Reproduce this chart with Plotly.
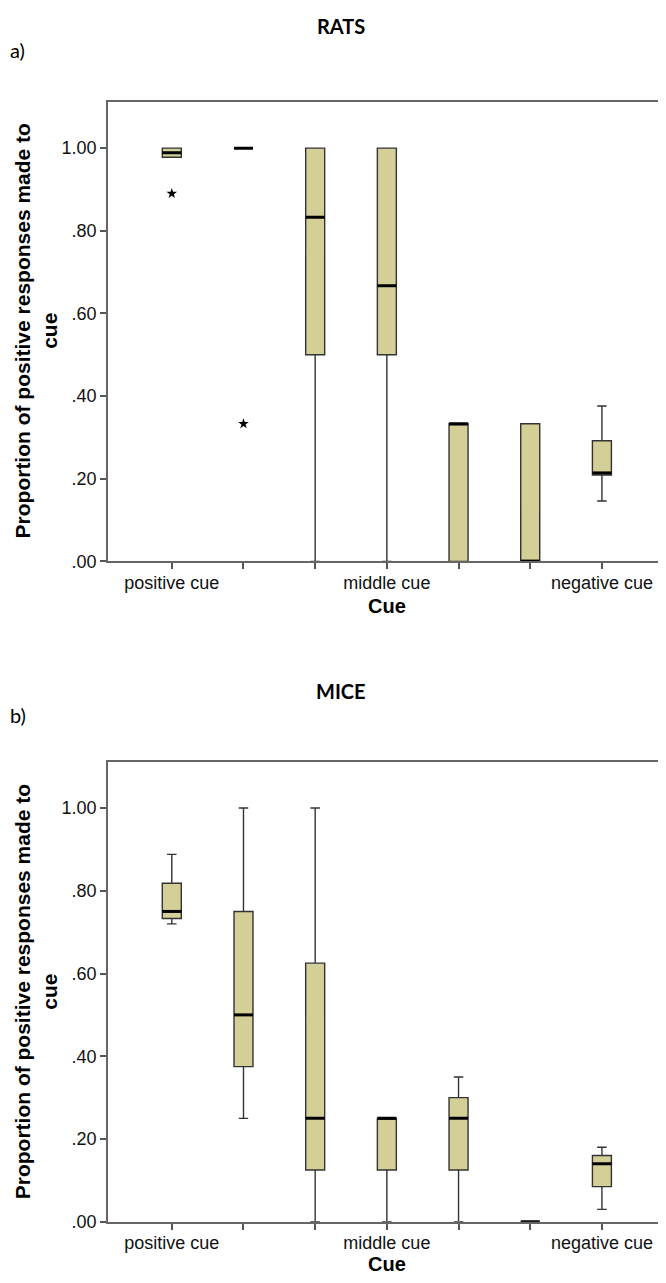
import plotly.graph_objects as go

# ---- data ----
cue_positions = [0, 1, 2, 3, 4, 5, 6]
tick_labels = ["positive cue", "", "", "middle cue", "", "", "negative cue"]
y_tickvals = [0, 0.2, 0.4, 0.6, 0.8, 1.0]
y_ticktext = [".00", ".20", ".40", ".60", ".80", "1.00"]

rats_min = [0.978, 1.000, 0.000, 0.000, 0.000, 0.000, 0.146]
rats_q1 = [0.978, 1.000, 0.500, 0.500, 0.000, 0.000, 0.209]
rats_median = [0.989, 1.000, 0.833, 0.667, 0.333, 0.000, 0.214]
rats_q3 = [1.000, 1.000, 1.000, 1.000, 0.333, 0.333, 0.292]
rats_max = [1.000, 1.000, 1.000, 1.000, 0.333, 0.333, 0.376]
rats_outlier_x = [0, 1]
rats_outlier_y = [0.890, 0.333]

mice_min = [0.720, 0.250, 0.000, 0.000, 0.000, 0.000, 0.030]
mice_q1 = [0.733, 0.375, 0.125, 0.125, 0.125, 0.000, 0.085]
mice_median = [0.750, 0.500, 0.250, 0.250, 0.250, 0.000, 0.140]
mice_q3 = [0.818, 0.750, 0.625, 0.250, 0.300, 0.000, 0.160]
mice_max = [0.888, 1.000, 1.000, 0.250, 0.350, 0.000, 0.180]

BOX_W = 0.265
FILL = "#d4cf96"
EDGE = "#333333"
W, H = 666, 1283


def median_segments(xs, meds):
    sx, sy = [], []
    for x, m in zip(xs, meds):
        sx += [x - BOX_W / 2, x + BOX_W / 2, None]
        sy += [m, m, None]
    return sx, sy


fig = go.Figure()

panels = [
    ("x", "y", rats_min, rats_q1, rats_median, rats_q3, rats_max, rats_outlier_x, rats_outlier_y),
    ("x2", "y2", mice_min, mice_q1, mice_median, mice_q3, mice_max, [], []),
]
for xa, ya, mn, q1, md, q3, mx, ox, oy in panels:
    fig.add_trace(go.Box(
        x=cue_positions, q1=q1, median=md, q3=q3, lowerfence=mn, upperfence=mx,
        width=BOX_W, fillcolor=FILL, line=dict(color=EDGE, width=1.4),
        whiskerwidth=0.5, boxpoints=False, showlegend=False, hoverinfo="skip",
        xaxis=xa, yaxis=ya,
    ))
    sx, sy = median_segments(cue_positions, md)
    fig.add_trace(go.Scatter(
        x=sx, y=sy, mode="lines", line=dict(color="black", width=3),
        showlegend=False, hoverinfo="skip", xaxis=xa, yaxis=ya,
    ))
    if ox:
        fig.add_trace(go.Scatter(
            x=ox, y=oy, mode="markers",
            marker=dict(symbol="star", size=8, color="black"),
            showlegend=False, hoverinfo="skip", xaxis=xa, yaxis=ya,
        ))

xdom = [100 / W, 657 / W]
tickfont = dict(family="Liberation Sans, Arial", size=18, color="#111")
axis_common = dict(showline=True, mirror=True, linecolor="#666", linewidth=1.5,
                   showgrid=False, zeroline=False, ticks="outside", ticklen=6,
                   tickcolor="#555", tickwidth=1.5, tickfont=tickfont)

xcommon = dict(axis_common, range=[-0.89, 6.88], tickvals=cue_positions,
               ticktext=tick_labels, domain=xdom, ticklabelstandoff=-2)
ycommon = dict(axis_common, range=[0, 1.111], tickvals=y_tickvals, ticktext=y_ticktext)

fig.update_layout(
    width=W, height=H, margin=dict(l=0, r=0, t=0, b=0),
    paper_bgcolor="white", plot_bgcolor="white",
    xaxis=dict(xcommon, anchor="y"),
    yaxis=dict(ycommon, domain=[1 - 557.7 / H, 1 - 95 / H], anchor="x"),
    xaxis2=dict(xcommon, anchor="y2"),
    yaxis2=dict(ycommon, domain=[1 - 1223.3 / H, 1 - 760 / H], anchor="x2"),
)


def ann(text, px, py, size, bold=False, family="Lato", angle=0, xanchor="center"):
    fig.add_annotation(
        text=f"<b>{text}</b>" if bold else text,
        x=px / W, y=1 - py / H, xref="paper", yref="paper",
        xanchor=xanchor, yanchor="middle", showarrow=False, textangle=angle,
        font=dict(family=family, size=size, color="black"),
    )


ytitle = "Proportion of positive responses made to<br>cue"
for title, label, ty, ly, cy, xty in [("RATS", "a)", 18, 42, 326, 603),
                                      ("MICE", "b)", 688, 713, 992, 1266)]:
    ann(title, 333, ty, 20, bold=True)
    ann(label, 0, ly, 20, xanchor="left")
    ann(ytitle, 28, cy, 21, bold=True, family="Liberation Sans, Arial", angle=-90)
    ann("Cue", 378.5, xty, 20, bold=True, family="Liberation Sans, Arial")

fig.write_html("out.html")
